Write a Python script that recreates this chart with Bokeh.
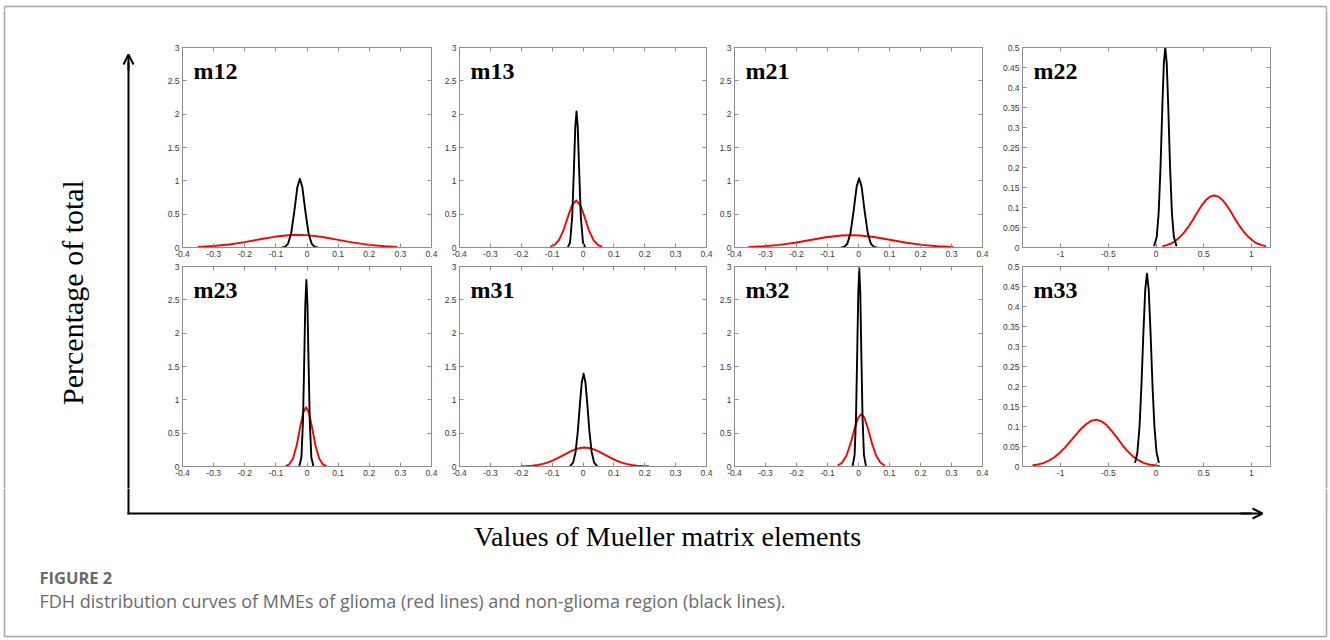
import math
from bokeh.plotting import figure
from bokeh.layouts import row, column
from bokeh.models import Range1d, FixedTicker, Label, LinearAxis, Arrow, OpenHead, CustomJSTickFormatter
from bokeh.embed import file_html
from bokeh.resources import INLINE

# ---------------- data ----------------
x_ticks_small = [-0.4, -0.3, -0.2, -0.1, 0, 0.1, 0.2, 0.3, 0.4]
x_labels_small = ["-0.4", "-0.3", "-0.2", "-0.1", "0", "0.1", "0.2", "0.3", "0.4"]
y_ticks_tall = [0, 0.5, 1, 1.5, 2, 2.5, 3]
y_labels_tall = ["0", "0.5", "1", "1.5", "2", "2.5", "3"]
x_ticks_wide = [-1, -0.5, 0, 0.5, 1]
x_labels_wide = ["-1", "-0.5", "0", "0.5", "1"]
y_ticks_short = [0, 0.05, 0.1, 0.15, 0.2, 0.25, 0.3, 0.35, 0.4, 0.45, 0.5]
y_labels_short = ["0", "0.05", "0.1", "0.15", "0.2", "0.25", "0.3", "0.35", "0.4", "0.45", "0.5"]

# m12
m12_red_x = [-0.35, -0.30, -0.25, -0.20, -0.15, -0.10, -0.05, -0.03, 0.00, 0.05, 0.10, 0.15, 0.20, 0.25, 0.29]
m12_red_y = [0.009, 0.022, 0.045, 0.081, 0.124, 0.164, 0.188, 0.19, 0.185, 0.157, 0.115, 0.073, 0.040, 0.019, 0.009]
m12_black_x = [-0.081, -0.071, -0.061, -0.051, -0.041, -0.031, -0.023, -0.015, -0.005, 0.005, 0.015, 0.025, 0.035]
m12_black_y = [0.001, 0.010, 0.055, 0.210, 0.534, 0.904, 1.03, 0.904, 0.534, 0.210, 0.055, 0.010, 0.001]
# m13
m13_red_x = [-0.106, -0.092, -0.078, -0.064, -0.050, -0.036, -0.022, -0.008, 0.006, 0.020, 0.034, 0.048, 0.062]
m13_red_y = [0.011, 0.038, 0.110, 0.248, 0.444, 0.629, 0.707, 0.629, 0.444, 0.248, 0.110, 0.038, 0.011]
m13_black_x = [-0.049, -0.042, -0.035, -0.030, -0.025, -0.021, -0.017, -0.012, -0.007, 0.000, 0.007]
m13_black_y = [0.005, 0.071, 0.458, 1.100, 1.806, 2.04, 1.806, 1.100, 0.458, 0.071, 0.005]
# m21
m21_red_x = [-0.355, -0.305, -0.255, -0.205, -0.155, -0.105, -0.055, -0.025, 0.005, 0.055, 0.105, 0.155, 0.205, 0.255, 0.305]
m21_red_y = [0.007, 0.018, 0.039, 0.071, 0.112, 0.153, 0.180, 0.185, 0.180, 0.153, 0.112, 0.071, 0.039, 0.018, 0.007]
m21_black_x = [-0.056, -0.046, -0.036, -0.026, -0.016, -0.006, 0.002, 0.010, 0.020, 0.030, 0.040, 0.050, 0.060]
m21_black_y = [0.001, 0.010, 0.056, 0.212, 0.539, 0.913, 1.04, 0.913, 0.539, 0.212, 0.056, 0.010, 0.001]
# m22
m22_red_x = [0.066, 0.11, 0.16, 0.205, 0.25, 0.295, 0.34, 0.385, 0.43, 0.475, 0.52, 0.565, 0.61,
             0.655, 0.70, 0.745, 0.79, 0.835, 0.88, 0.925, 0.97, 1.015, 1.06, 1.11, 1.153]
m22_red_y = [0.003, 0.006, 0.010, 0.017, 0.026, 0.038, 0.052, 0.069, 0.087, 0.104, 0.118, 0.127, 0.130,
             0.127, 0.118, 0.104, 0.087, 0.069, 0.052, 0.038, 0.026, 0.017, 0.010, 0.006, 0.003]
m22_black_x = [-0.021, 0.007, 0.027, 0.047, 0.067, 0.082, 0.097, 0.112, 0.127, 0.147, 0.167, 0.187, 0.215]
m22_black_y = [0.003, 0.026, 0.084, 0.201, 0.360, 0.461, 0.5, 0.461, 0.360, 0.201, 0.084, 0.026, 0.003]
# m23
m23_red_x = [-0.069, -0.057, -0.045, -0.033, -0.021, -0.012, -0.003, 0.006, 0.015, 0.027, 0.039, 0.051, 0.063]
m23_red_y = [0.006, 0.033, 0.120, 0.320, 0.616, 0.811, 0.889, 0.811, 0.616, 0.320, 0.120, 0.033, 0.006]
m23_black_x = [-0.0245, -0.018, -0.013, -0.009, -0.0055, -0.002, 0.0015, 0.005, 0.009, 0.014, 0.0205]
m23_black_y = [0.007, 0.135, 0.669, 1.568, 2.422, 2.80, 2.422, 1.568, 0.669, 0.135, 0.007]
# m31
m31_red_x = [-0.202, -0.185, -0.165, -0.147, -0.130, -0.113, -0.095, -0.077, -0.060, -0.042, -0.025, -0.010, 0.005,
             0.020, 0.035, 0.052, 0.070, 0.087, 0.105, 0.123, 0.140, 0.157, 0.175, 0.195, 0.213]
m31_red_y = [0.003, 0.005, 0.012, 0.023, 0.039, 0.062, 0.095, 0.136, 0.179, 0.224, 0.258, 0.278, 0.285,
             0.278, 0.258, 0.224, 0.179, 0.136, 0.095, 0.062, 0.039, 0.023, 0.012, 0.005, 0.003]
m31_black_x = [-0.042, -0.032, -0.024, -0.017, -0.010, -0.004, 0.002, 0.008, 0.014, 0.021, 0.028, 0.036, 0.046]
m31_black_y = [0.007, 0.058, 0.218, 0.516, 0.936, 1.259, 1.39, 1.259, 0.936, 0.516, 0.218, 0.058, 0.007]
# m32
m32_red_x = [-0.067, -0.053, -0.039, -0.026, -0.013, -0.001, 0.009, 0.019, 0.031, 0.044, 0.057, 0.071, 0.085]
m32_red_y = [0.015, 0.056, 0.162, 0.339, 0.563, 0.732, 0.784, 0.732, 0.563, 0.339, 0.162, 0.056, 0.015]
m32_black_x = [-0.019, -0.0125, -0.008, -0.0042, -0.0008, 0.0025, 0.0058, 0.0092, 0.013, 0.0175, 0.024]
m32_black_y = [0.009, 0.175, 0.741, 1.688, 2.590, 2.97, 2.590, 1.688, 0.741, 0.175, 0.009]
# m33
m33_red_x = [-1.294, -1.236, -1.176, -1.121, -1.066, -1.011, -0.956, -0.901, -0.846, -0.791, -0.736, -0.681, -0.626,
             -0.571, -0.516, -0.461, -0.406, -0.351, -0.296, -0.241, -0.186, -0.131, -0.076, -0.016, 0.042]
m33_red_y = [0.003, 0.005, 0.009, 0.015, 0.023, 0.034, 0.047, 0.062, 0.078, 0.093, 0.105, 0.114, 0.117,
             0.113, 0.103, 0.088, 0.071, 0.053, 0.038, 0.025, 0.016, 0.009, 0.005, 0.003, 0.001]
m33_black_x = [-0.220, -0.195, -0.173, -0.153, -0.133, -0.113, -0.095, -0.077, -0.057, -0.037, -0.017, 0.005, 0.030]
m33_black_y = [0.009, 0.036, 0.100, 0.202, 0.332, 0.443, 0.482, 0.443, 0.332, 0.202, 0.100, 0.036, 0.009]

y_axis_title = "Percentage of total"
x_axis_title = "Values of Mueller matrix elements"
fig_label = "FIGURE 2"
caption = "FDH distribution curves of MMEs of glioma (red lines) and non-glioma region (black lines)."

# ---------------- styling ----------------
BOX = "#8e8e8e"
TICKLAB = "#3a3a3a"
FRAME = "#a5a5a5"
SERIF = "Liberation Serif"
SANS = "Liberation Sans"


def make_panel(name, rx, ry, bx, by, wide, fw, bl, br, bt, bb):
    if wide:
        xr, xt, xl = (-1.4, 1.2), x_ticks_wide, x_labels_wide
        yr, yt, yl = (0, 0.5), y_ticks_short, y_labels_short
    else:
        xr, xt, xl = (-0.4, 0.4), x_ticks_small, x_labels_small
        yr, yt, yl = (0, 3), y_ticks_tall, y_labels_tall
    # fixed outer size: if a border needs more room the frame shrinks instead of pushing neighbours
    p = figure(width=bl + fw + br, height=bt + 200 + bb, x_range=Range1d(*xr), y_range=Range1d(*yr),
               output_backend="svg", toolbar_location=None,
               min_border_left=bl, min_border_right=br, min_border_top=bt, min_border_bottom=bb)
    p.grid.visible = False
    p.outline_line_color = BOX
    p.outline_line_width = 1
    p.background_fill_color = "white"
    p.border_fill_color = "white"
    p.xaxis.ticker = FixedTicker(ticks=xt)
    p.yaxis.ticker = FixedTicker(ticks=yt)
    p.xaxis.major_label_overrides = dict(zip(xt, xl))
    p.yaxis.major_label_overrides = dict(zip(yt, yl))
    for ax in (p.xaxis[0], p.yaxis[0]):
        ax.major_tick_in = 4
        ax.major_tick_out = 0
        ax.minor_tick_line_color = None
        ax.axis_line_color = BOX
        ax.major_tick_line_color = BOX
        ax.major_label_text_font = SANS
        ax.major_label_text_font_size = "8.5px"
        ax.major_label_text_color = TICKLAB
        ax.major_label_standoff = 3
    empty = CustomJSTickFormatter(code="return ''")
    top = LinearAxis(ticker=FixedTicker(ticks=xt), formatter=empty, major_tick_in=4, major_tick_out=0,
                     minor_tick_line_color=None, axis_line_color=BOX, major_tick_line_color=BOX,
                     major_label_standoff=0, major_label_text_font_size="1px")
    right = LinearAxis(ticker=FixedTicker(ticks=yt), formatter=empty, major_tick_in=4, major_tick_out=0,
                       minor_tick_line_color=None, axis_line_color=BOX, major_tick_line_color=BOX,
                       major_label_standoff=0, major_label_text_font_size="1px")
    p.add_layout(top, "above")
    p.add_layout(right, "right")
    p.line(rx, ry, line_color="#ff0000", line_width=1.9, line_join="round")
    p.line(bx, by, line_color="black", line_width=1.9, line_join="round")
    p.add_layout(Label(x=xr[0], y=yr[1], x_offset=11, y_offset=-23, text=name,
                       text_font=SERIF, text_font_style="bold", text_font_size="24px",
                       text_baseline="middle", text_color="black"))
    return p


# page coordinates = reference coordinates (0..1330, 0..640)
TOP_STRIP = 10
# frame width, left border, right border
cols = [(249, 22, 10), (249, 16, 10), (250, 16, 10), (248, 30, 52)]
row1_b = (47 - TOP_STRIP, 15)  # top, bottom border
row2_b = (4, 22)

curves = [
    ("m12", m12_red_x, m12_red_y, m12_black_x, m12_black_y, False),
    ("m13", m13_red_x, m13_red_y, m13_black_x, m13_black_y, False),
    ("m21", m21_red_x, m21_red_y, m21_black_x, m21_black_y, False),
    ("m22", m22_red_x, m22_red_y, m22_black_x, m22_black_y, True),
    ("m23", m23_red_x, m23_red_y, m23_black_x, m23_black_y, False),
    ("m31", m31_red_x, m31_red_y, m31_black_x, m31_black_y, False),
    ("m32", m32_red_x, m32_red_y, m32_black_x, m32_black_y, False),
    ("m33", m33_red_x, m33_red_y, m33_black_x, m33_black_y, True),
]

panels = []
for i, (nm, rx, ry, bx, by, wide) in enumerate(curves):
    fw, bl, br = cols[i % 4]
    bt, bb = row1_b if i < 4 else row2_b
    panels.append(make_panel(nm, rx, ry, bx, by, wide, fw, bl, br, bt, bb))

MID_END = TOP_STRIP + 200 * 2 + sum(row1_b) + sum(row2_b)  # 488
GRID_END = 160 + sum(c[0] + c[1] + c[2] for c in cols)      # 1322


def deco_fig(x0, x1, y0, y1):
    f = figure(width=x1 - x0, height=y1 - y0, x_range=Range1d(x0, x1), y_range=Range1d(y1, y0),
               output_backend="svg", toolbar_location=None, x_axis_type=None, y_axis_type=None,
               min_border=0)
    f.grid.visible = False
    f.outline_line_color = None
    f.background_fill_color = "white"
    f.border_fill_color = "white"
    return f


def frame_seg(f, xs, ys):
    f.line(xs, ys, line_color=FRAME, line_width=1.5)


# top strip
top_strip = deco_fig(0, 1330, 0, TOP_STRIP)
frame_seg(top_strip, [4, 1326], [4, 4])
frame_seg(top_strip, [4, 4], [4, TOP_STRIP])
frame_seg(top_strip, [1326, 1326], [4, TOP_STRIP])

# left decoration
left = deco_fig(0, 160, TOP_STRIP, MID_END)
frame_seg(left, [4, 4], [TOP_STRIP, MID_END])
left.line([128, 128], [MID_END, 62], line_color="black", line_width=2)
left.add_layout(Arrow(end=OpenHead(size=10, line_width=2, line_color="black"),
                      x_start=128, y_start=70, x_end=128, y_end=54, line_width=2, line_color="black"))
left.add_layout(Label(x=72, y=292, text=y_axis_title, angle=math.pi / 2, text_align="center",
                      text_baseline="middle", text_font=SERIF, text_font_size="30px", text_color="black"))

# right strip
right_strip = deco_fig(GRID_END, 1330, TOP_STRIP, MID_END)
frame_seg(right_strip, [1326, 1326], [TOP_STRIP, MID_END])

# bottom decoration
bottom = deco_fig(0, 1330, MID_END, 640)
frame_seg(bottom, [4, 4], [MID_END, 636])
frame_seg(bottom, [1326, 1326], [MID_END, 636])
frame_seg(bottom, [4, 1326], [636, 636])
bottom.line([128, 128], [MID_END, 513], line_color="black", line_width=2, line_cap="square")
bottom.line([128, 1250], [513, 513], line_color="black", line_width=2, line_cap="square")
bottom.add_layout(Arrow(end=OpenHead(size=10, line_width=2, line_color="black"),
                        x_start=1240, y_start=513, x_end=1262, y_end=513, line_width=2, line_color="black"))
bottom.add_layout(Label(x=667, y=536, text=x_axis_title, text_align="center", text_baseline="middle",
                        text_font=SERIF, text_font_size="28px", text_color="black"))
bottom.add_layout(Label(x=39, y=577, text=fig_label, text_align="left", text_baseline="middle",
                        text_font="Open Sans", text_font_style="bold", text_font_size="16.5px",
                        text_color="#6a6a6a"))
bottom.add_layout(Label(x=39, y=600, text=caption, text_align="left", text_baseline="middle",
                        text_font="Open Sans", text_font_size="18px", text_color="#6b6b6b"))

grid = column(row(*panels[:4]), row(*panels[4:]))
layout = column(top_strip, row(left, grid, right_strip), bottom)

open("out.html", "w").write(file_html(layout, INLINE))
